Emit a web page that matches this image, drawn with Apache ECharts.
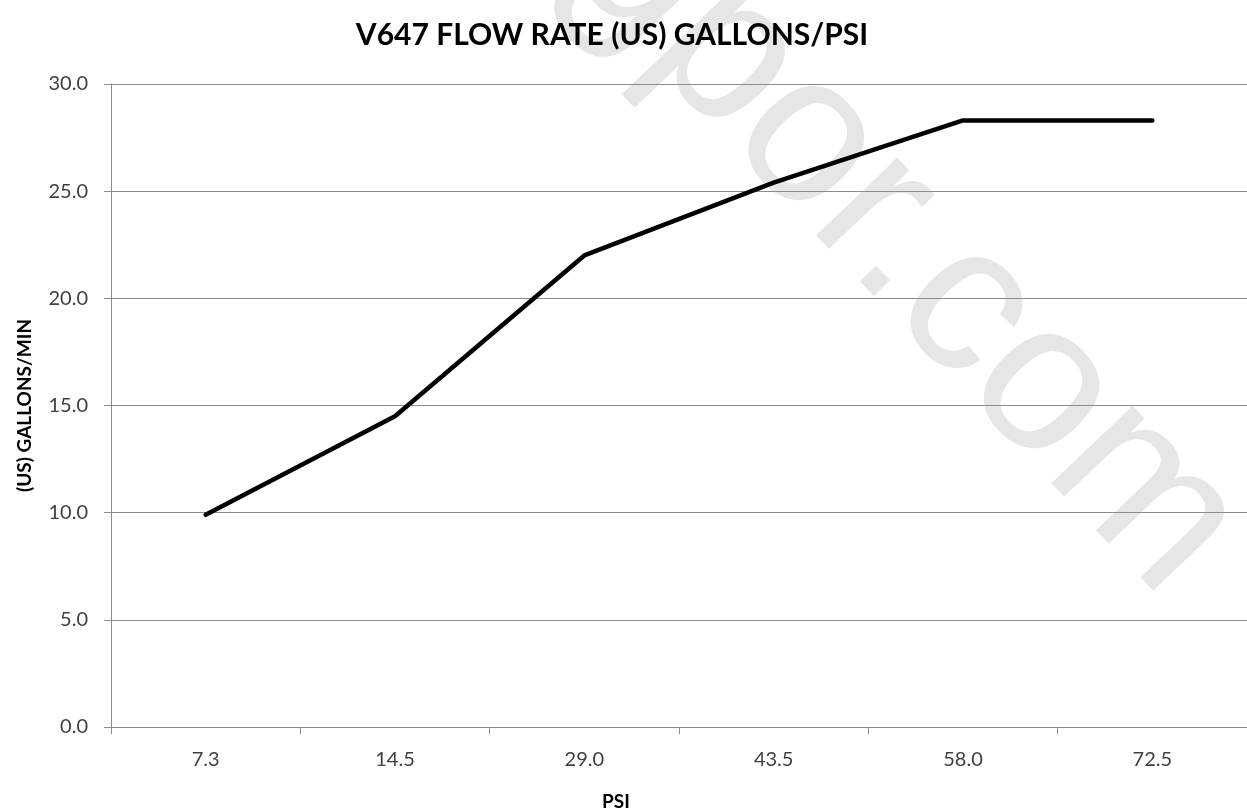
<!DOCTYPE html>
<html>
<head>
<meta charset="utf-8">
<script src="https://cdn.jsdelivr.net/npm/echarts@6/dist/echarts.min.js"></script>
<style>
html,body{margin:0;padding:0;background:#fff;}
#c{width:1247px;height:809px;}
</style>
</head>
<body>
<div id="c"></div>
<script>
var titleText = 'V647 FLOW RATE (US) GALLONS/PSI';
var xName = 'PSI';
var yName = '(US) GALLONS/MIN';
var categories = ['7.3', '14.5', '29.0', '43.5', '58.0', '72.5'];
var flowValues = [9.9, 14.5, 22.0, 25.4, 28.3, 28.3];
var watermark = 'gpor.com';

var chart = echarts.init(document.getElementById('c'), null, {renderer: 'canvas'});
var option = {
  backgroundColor: '#ffffff',
  animation: false,
  title: [
    {
      text: titleText, left: 607, top: 15, textAlign: 'center',
      textStyle: {fontFamily: 'Lato', fontWeight: 'bold', fontSize: 30, color: '#000'}
    },
    {
      text: xName, left: 611, top: 787, textAlign: 'center',
      textStyle: {fontFamily: 'Lato', fontWeight: 'bold', fontSize: 19, color: '#000'}
    }
  ],
  graphic: [{
    type: 'text', x: 905, y: 244, rotation: -46.5 * Math.PI / 180, z: -10, silent: true,
    style: {text: watermark, fontSize: 212, fontFamily: 'Liberation Sans', fill: '#e6e6e6',
            textAlign: 'center', textVerticalAlign: 'middle'}
  }],
  grid: {left: 111, right: -3, top: 84, bottom: 82, containLabel: false},
  xAxis: {
    type: 'category', data: categories, boundaryGap: true,
    axisLine: {show: true, lineStyle: {color: '#8c8c8c', width: 1}},
    axisTick: {show: true, length: 7, lineStyle: {color: '#8c8c8c'}},
    axisLabel: {margin: 23, fontFamily: 'Lato', fontSize: 20, color: '#404040'},
    splitLine: {show: false}
  },
  yAxis: {
    type: 'value', min: 0, max: 30, interval: 5,
    name: yName, nameLocation: 'middle', nameGap: 77,
    nameTextStyle: {fontFamily: 'Lato', fontWeight: 'bold', fontSize: 19, color: '#000'},
    axisLine: {show: true, lineStyle: {color: '#8c8c8c', width: 1}},
    axisTick: {show: true, length: 7, lineStyle: {color: '#8c8c8c'}},
    axisLabel: {margin: 23, fontFamily: 'Lato', fontSize: 20, color: '#404040',
                formatter: function (v) { return v.toFixed(1); }},
    splitLine: {show: true, lineStyle: {color: '#8c8c8c', width: 1}}
  },
  series: [{
    type: 'line', data: flowValues, showSymbol: false, symbol: 'none', smooth: false,
    lineStyle: {color: '#000', width: 4.5, cap: 'round', join: 'round'}, z: 5
  }]
};
chart.setOption(option);
</script>
</body>
</html>
